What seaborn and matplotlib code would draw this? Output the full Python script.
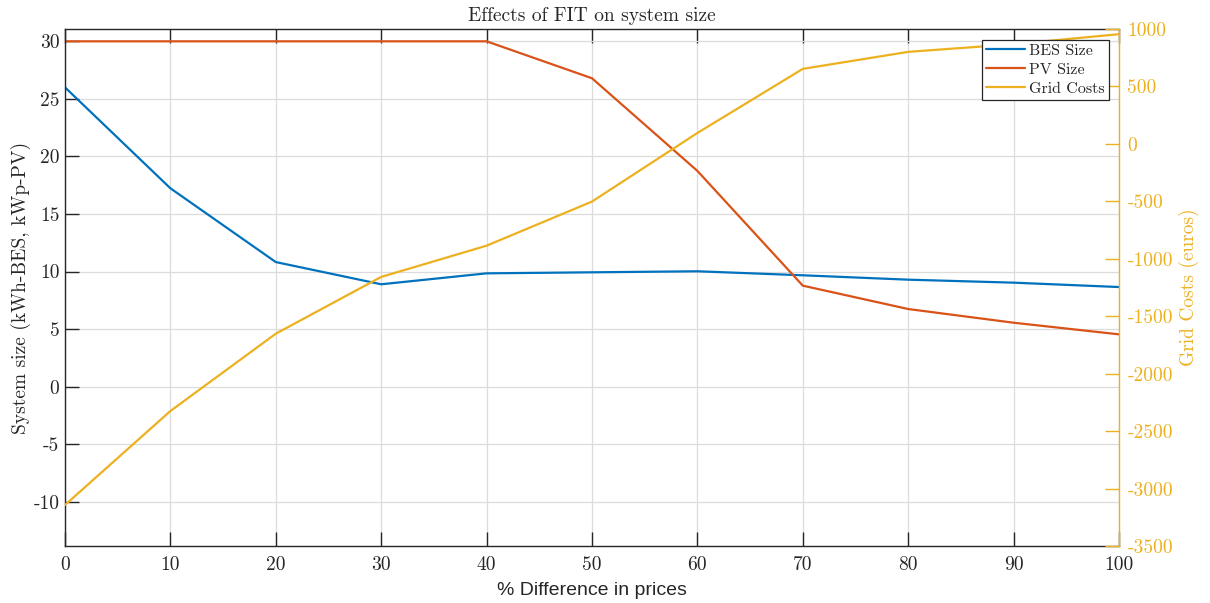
import matplotlib
matplotlib.use("Agg")
import matplotlib.pyplot as plt
import seaborn as sns
import pandas as pd
from matplotlib.ticker import FuncFormatter, MultipleLocator

pct_diff = [0, 10, 20, 30, 40, 50, 60, 70, 80, 90, 100]
bes_size = [26.0, 17.23, 10.82, 8.89, 9.84, 9.93, 10.02, 9.67, 9.29, 9.03, 8.65]
pv_size = [30.0, 30.0, 30.0, 30.0, 30.0, 26.79, 18.74, 8.77, 6.74, 5.55, 4.54]
grid_costs = [-3143, -2325, -1652, -1158, -886, -502, 95, 653, 801, 868, 955]

C_BES = "#0072BD"
C_PV = "#D95319"
C_GRID = "#EDB120"
DARK = "#262626"

sns.set_style("white")
plt.rcParams["font.family"] = ["cmr10", "DejaVu Serif"]
plt.rcParams["mathtext.fontset"] = "cm"
plt.rcParams["axes.unicode_minus"] = False

df = pd.DataFrame({"x": pct_diff, "bes": bes_size, "pv": pv_size, "grid": grid_costs})

fig = plt.figure(figsize=(12.10, 6.03), dpi=100)
ax = fig.add_axes([65/1210, 57/603, (1119-65)/1210, (546-29)/603])
ax2 = ax.twinx()

sns.lineplot(data=df, x="x", y="bes", ax=ax, color=C_BES, lw=1.6, label="BES Size", legend=False)
sns.lineplot(data=df, x="x", y="pv", ax=ax, color=C_PV, lw=1.6, label="PV Size", legend=False)
sns.lineplot(data=df, x="x", y="grid", ax=ax2, color=C_GRID, lw=1.6, label="Grid Costs", legend=False)

ax.set_xlim(0, 100)
ax.set_ylim(-13.85, 31.07)
ax2.set_ylim(-3500, 1000)
ax.xaxis.set_major_locator(MultipleLocator(10))
ax.yaxis.set_major_locator(MultipleLocator(5))
ax2.yaxis.set_major_locator(MultipleLocator(500))
fmt = FuncFormatter(lambda v, p: f"{v:g}".replace("\u2212", "-"))
ax.xaxis.set_major_formatter(fmt)
ax.yaxis.set_major_formatter(fmt)
ax2.yaxis.set_major_formatter(fmt)

ax.grid(True, color="#dcdcdc", lw=0.9)
ax.set_axisbelow(True)

for s in ["left", "bottom", "top"]:
    ax.spines[s].set_color(DARK)
    ax.spines[s].set_linewidth(1.0)
ax.spines["right"].set_visible(False)
for s in ["left", "bottom", "top"]:
    ax2.spines[s].set_visible(False)
ax2.spines["right"].set_color(C_GRID)
ax2.spines["right"].set_linewidth(1.0)

ax.tick_params(axis="x", direction="in", length=10, width=1, color=DARK, top=True, bottom=True,
               labelsize=14, labelcolor=DARK, pad=7)
ax.tick_params(axis="y", direction="in", length=10, width=1, color=DARK, left=True, right=False,
               labelsize=14, labelcolor=DARK, pad=4)
ax2.tick_params(axis="y", direction="in", length=10, width=1, color=C_GRID, right=True,
                labelsize=14, labelcolor=C_GRID, pad=6)

ax.set_xlabel("% Difference in prices", family="Liberation Sans", fontsize=14, color=DARK, labelpad=6)
ax.set_ylabel("System size (kWh-BES, kWp-PV)", fontsize=14, color=DARK, labelpad=2)
ax2.set_ylabel("Grid Costs (euros)", fontsize=14, color=C_GRID, labelpad=4)
ax.set_title("Effects of FIT on system size", fontsize=14, color=DARK, pad=6)

h1, l1 = ax.get_legend_handles_labels()
h2, l2 = ax2.get_legend_handles_labels()
leg = ax2.legend(h1 + h2, l1 + l2, loc="upper right", bbox_to_anchor=(0.9905, 0.979),
                 fontsize=11.5, frameon=True, fancybox=False, framealpha=1, edgecolor=DARK,
                 borderpad=0.25, labelspacing=0.3, handlelength=2.4, handletextpad=0.3, borderaxespad=0)
leg.get_frame().set_linewidth(0.9)

fig.savefig("out.png", dpi=100)
